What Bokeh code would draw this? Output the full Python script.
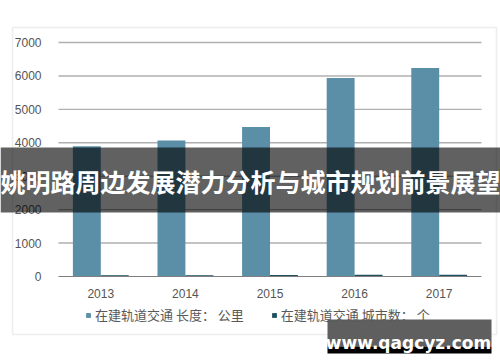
from bokeh.plotting import figure
from bokeh.models import (ColumnDataSource, Range1d, BoxAnnotation, Label, Legend,
                          LegendItem, FixedTicker)
from bokeh.embed import file_html
from bokeh.resources import INLINE

years = ["2013", "2014", "2015", "2016", "2017"]
length_km = [3900, 4070, 4470, 5940, 6240]
city_count = [38, 40, 43, 50, 56]
y_ticks = [0, 1000, 2000, 3000, 4000, 5000, 6000, 7000]
series_names = ["在建轨道交通 长度： 公里", "在建轨道交通 城市数： 个"]
title_text = "姚明路周边发展潜力分析与城市规划前景展望"
watermark_text = "www.qagcyz.com"

LIGHT = "#5b8fa8"
DARK = "#1f4e5f"
CJK = "Noto Sans CJK SC"
W, H = 500, 362

# category slots 0..5 map to the plot area (px 58..481); y 0..7000 to px 276..42
px_per_cat = (481 - 58) / len(years)
px_per_unit = (276 - 42) / 7000
x_range = Range1d(-58 / px_per_cat, len(years) + (W - 481) / px_per_cat)
y_range = Range1d(-(H - 276) / px_per_unit, 7000 + 42 / px_per_unit)

centers = [i + 0.5 for i in range(len(years))]
bar_w = 0.33
src = ColumnDataSource(dict(
    x1=[c - bar_w / 2 for c in centers],
    x2=[c + bar_w / 2 for c in centers],
    length=length_km, cities=city_count))

p = figure(width=W, height=H, output_backend="svg", toolbar_location=None,
           x_range=x_range, y_range=y_range, min_border=0)
p.outline_line_color = None
p.background_fill_color = "white"
p.border_fill_color = "white"
p.xgrid.grid_line_color = None
p.ygrid.grid_line_color = None

# horizontal gridlines across the plot area only
grid_src = ColumnDataSource(dict(y=y_ticks[1:],
                                 x0=[0] * (len(y_ticks) - 1),
                                 x1=[len(years)] * (len(y_ticks) - 1)))
p.segment(x0="x0", x1="x1", y0="y", y1="y", source=grid_src,
          line_color="#afafaf", line_width=1.4)

r1 = p.vbar(x="x1", top="length", width=bar_w, source=src,
            fill_color=LIGHT, line_color=None)
r2 = p.vbar(x="x2", top="cities", width=bar_w, source=src,
            fill_color=DARK, line_color=None)

yax = p.yaxis[0]
yax.fixed_location = 0
yax.ticker = FixedTicker(ticks=y_ticks)
yax.axis_line_color = None
yax.major_tick_line_color = None
yax.minor_tick_line_color = None
yax.major_label_text_font = "Liberation Sans"
yax.major_label_text_font_size = "12px"
yax.major_label_text_color = "#555555"
yax.major_label_standoff = 11

xax = p.xaxis[0]
xax.fixed_location = 0
xax.bounds = (0, len(years))
xax.ticker = FixedTicker(ticks=centers)
xax.major_label_overrides = {c: y for c, y in zip(centers, years)}
xax.axis_line_color = "#7f7f7f"
xax.axis_line_width = 1
xax.major_tick_line_color = None
xax.minor_tick_line_color = None
xax.major_label_text_font = "Liberation Sans"
xax.major_label_text_font_size = "12px"
xax.major_label_text_color = "#555555"
xax.major_label_standoff = 6

legend = Legend(items=[LegendItem(label=series_names[0], renderers=[r1]),
                       LegendItem(label=series_names[1], renderers=[r2])],
                orientation="horizontal", location=(85, 38),
                glyph_width=6, glyph_height=6, label_standoff=4, spacing=27,
                padding=0, margin=0, border_line_color=None,
                background_fill_alpha=0,
                label_text_font=CJK, label_text_font_size="13px",
                label_text_color="#595959")
p.add_layout(legend, "center")

def screen_box(left, right, top, bottom, **kw):
    return BoxAnnotation(left=left, right=right, top=H - top, bottom=H - bottom,
                         left_units="screen", right_units="screen",
                         top_units="screen", bottom_units="screen", **kw)

# chart border
p.add_layout(screen_box(12, 496, 27, 334, fill_alpha=0,
                        line_color="#c3c3c3", line_width=1.5))

# banner
p.add_layout(screen_box(0, W, 147, 212, fill_color="black", fill_alpha=0.62,
                        line_color=None))
p.add_layout(Label(x=0, y=H - 180, x_units="screen", y_units="screen",
                   text=title_text, text_font=CJK, text_font_style="bold",
                   text_font_size="25px", text_color="white",
                   text_baseline="middle", text_align="left"))

# watermark
p.add_layout(screen_box(327, 491, 319, 346, fill_color="#5f5f5f", fill_alpha=1,
                        line_color=None))
p.add_layout(screen_box(327, 491, 346, 353, fill_color="black", fill_alpha=1,
                        line_color=None))
p.add_layout(Label(x=408, y=H - 342, x_units="screen", y_units="screen",
                   text=watermark_text, text_font="DejaVu Sans",
                   text_font_style="bold", text_font_size="17px",
                   text_color="white", text_baseline="alphabetic",
                   text_align="center"))

open("out.html", "w").write(file_html(p, INLINE))
